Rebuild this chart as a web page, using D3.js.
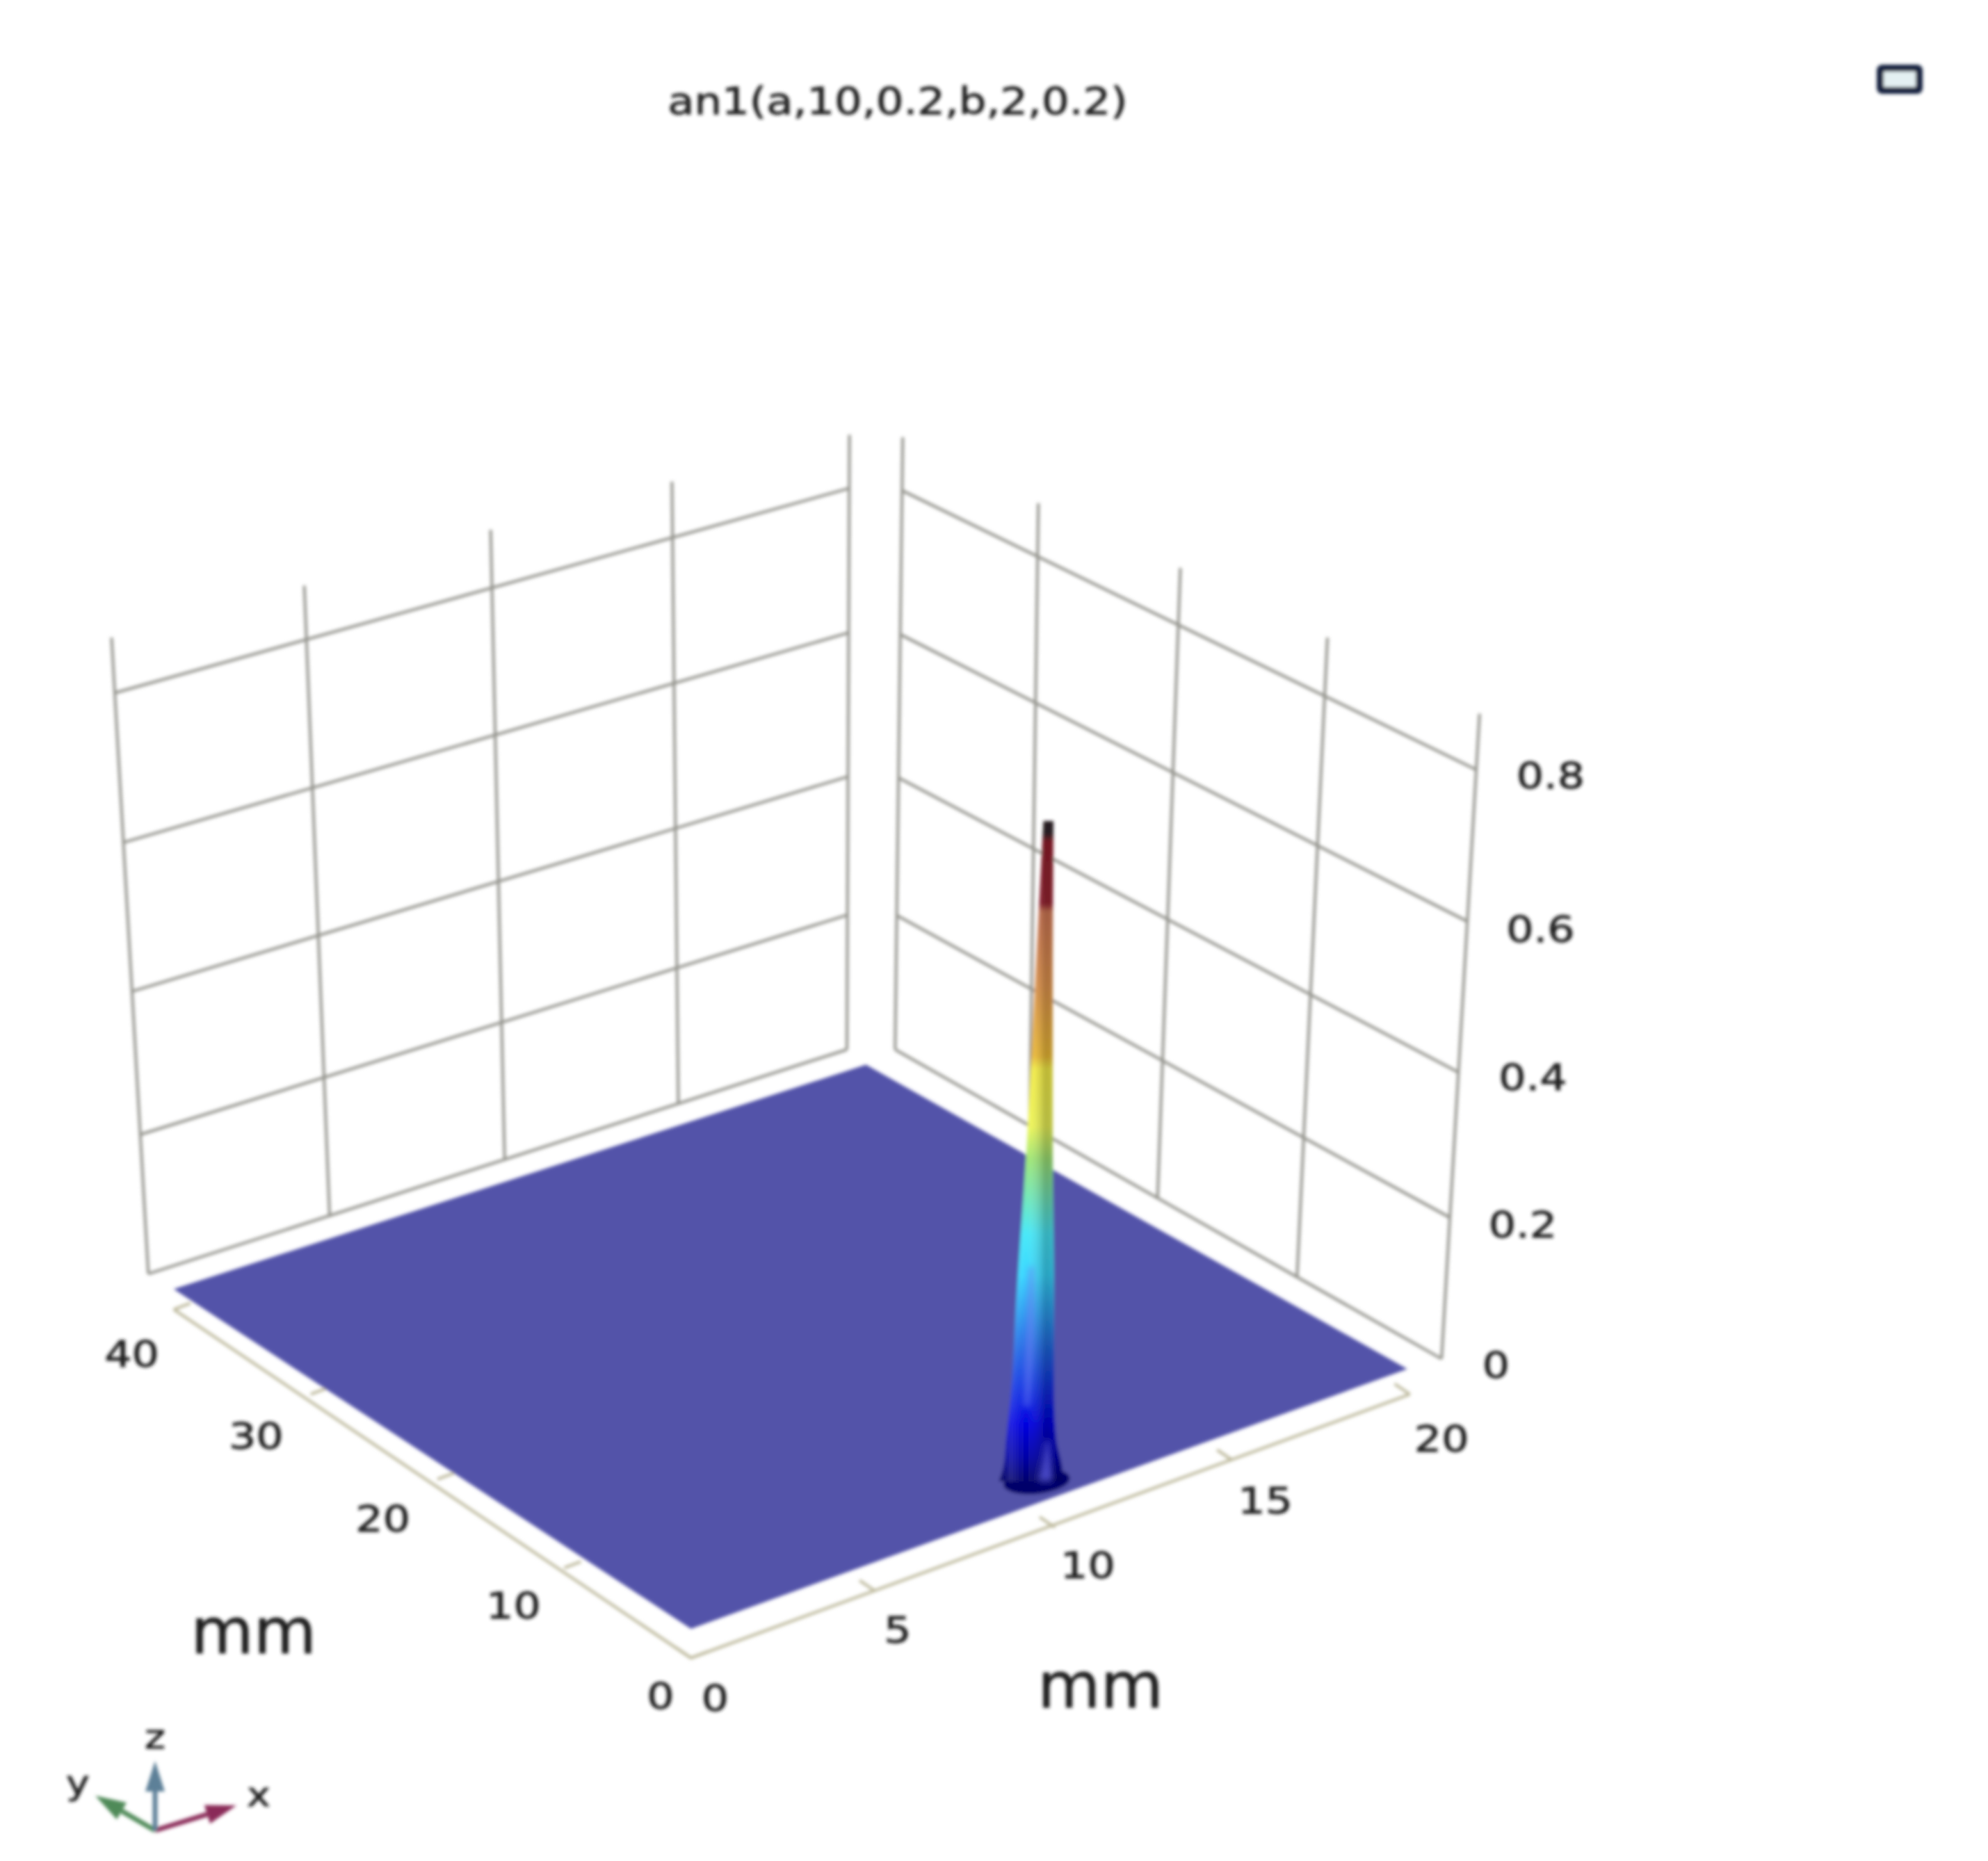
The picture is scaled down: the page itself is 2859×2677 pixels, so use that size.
<!DOCTYPE html>
<html><head><meta charset="utf-8">
<script src="https://cdn.jsdelivr.net/npm/d3@7"></script>
<style>html,body{margin:0;padding:0;background:#fff}svg{display:block}text{font-family:"DejaVu Sans";fill:#1c1c1c;stroke:#1c1c1c;stroke-width:0.8px}</style>
</head><body><svg id="c" width="2859" height="2677"></svg>
<script>
const titleText = "an1(a,10,0.2,b,2,0.2)";
const unitText = "mm";
const xTicks = [0,5,10,15,20];
const yTicks = [0,10,20,30,40];
const zTicks = [0,0.2,0.4,0.6,0.8];
const zFrame = [0,0.2,0.4,0.6,0.8,0.875];
const spikeZ     = [0,0.018,0.051,0.1,0.218,0.396,0.616,0.8];
const spikeLeft  = [8.6,8.72,8.8,8.92,9.08,9.36,9.62,9.84];
const spikeRight = [10.4,10.36,10.2,10.14,10.14,10.1,10.1,10.12];
const jetZ = [0,0.03,0.07,0.16,0.25,0.3,0.39,0.43,0.5,0.515,0.6,0.69,0.7,0.775,0.785,0.8];
const jetColors = ["#00006a","#0000a8","#0000e0","#2068e4","#38d8ff","#48e8f8","#a0e878","#f0f858","#fcf448","#f4c038","#e89a50","#d87c58","#9c2434","#96202e","#33282a","#33262a"];
const highlightZ = [0.09,0.14,0.2,0.26];
const highlightL = [9.3,9.32,9.38,9.44];
const highlightR = [9.44,9.52,9.56,9.56];
const wedgeZ = [0,0.02,0.05];
const wedgeL = [9.7,9.8,9.9];
const wedgeR = [10.1,10.06,10.0];

const k = 2859/1568;
const lin = (d, r) => d3.scaleLinear().domain(d).range(r.map(v => v*k));
const svg = d3.select("#c");
const defs = svg.append("defs");
const blur = (id,s)=>defs.append("filter").attr("id",id).attr("x","-30%").attr("y","-30%").attr("width","160%").attr("height","160%")
  .append("feGaussianBlur").attr("stdDeviation",s);
blur("soft",2.4); blur("softer",4);
const root = svg.append("g").attr("filter","url(#soft)");

// wall scales
const t = d3.scaleLinear().domain(zFrame).range([0,0.219,0.444,0.678,0.913,1]);
const aBotX=lin(xTicks,[117,260,398,535,668]), aBotY=lin(xTicks,[1005,960,914,870,828]);
const aTopX=lin(xTicks,[88,240,387,530,670]),  aTopY=lin(xTicks,[503,462,418,380,343]);
const bBotX=lin(yTicks,[1137,1023,913,812,706]), bBotY=lin(yTicks,[1072,1008,945,890,828]);
const bTopX=lin(yTicks,[1167,1047,931,819,712]), bTopY=lin(yTicks,[563,503,448,397,345]);
const pA=(x,z)=>[aBotX(x)+(aTopX(x)-aBotX(x))*t(z), aBotY(x)+(aTopY(x)-aBotY(x))*t(z)];
const pB=(y,z)=>[bBotX(y)+(bTopX(y)-bBotX(y))*t(z), bBotY(y)+(bTopY(y)-bBotY(y))*t(z)];
const zTop = zFrame[zFrame.length-1];
const line = d3.line();
const walls = root.append("g").attr("fill","none").attr("stroke","#93938c").attr("stroke-width",4);
xTicks.forEach(x=>walls.append("path").attr("d",line([pA(x,0),pA(x,zTop)])));
yTicks.forEach(y=>walls.append("path").attr("d",line([pB(y,0),pB(y,zTop)])));
zTicks.forEach(z=>{
  walls.append("path").attr("d",line([pA(0,z),pA(20,z)]));
  walls.append("path").attr("d",line([pB(40,z),pB(0,z)]));
});

// floor frame with ticks
const fxX=lin(xTicks,[545,690,832,972,1112]), fxY=lin(xTicks,[1308,1255,1205,1152,1100]);
const fyX=lin(yTicks,[545,445,345,245,137]),  fyY=lin(yTicks,[1308,1237,1167,1100,1033]);
const frame = root.append("g").attr("fill","none").attr("stroke","#bdb99c").attr("stroke-width",4);
frame.append("path").attr("d",line([[fyX(40),fyY(40)],[fyX(0),fyY(0)],[fxX(20),fxY(20)]]));
xTicks.forEach(x=>frame.append("path").attr("d",line([[fxX(x),fxY(x)],[fxX(x)-22,fxY(x)-15]])));
yTicks.forEach(y=>frame.append("path").attr("d",line([[fyX(y),fyY(y)],[fyX(y)+24,fyY(y)-9]])));

// plane
const planeX=lin([0,20],[545,1110]), planeY=lin([0,20],[1285,1080]);
const planeLX=lin([0,40],[545,137]), planeLY=lin([0,40],[1285,1017]);
const planeFar=[683*k,840*k];
root.append("path").attr("fill","#5353a9")
  .attr("d",line([[planeX(0),planeY(0)],[planeX(20),planeY(20)],planeFar,[planeLX(40),planeLY(40)]])+"Z");

// spike
const spikeX=d3.scaleLinear().domain([0,20]).range([545*k,1110*k]);
const spikeY=d3.scaleLinear().domain([0,0.8]).range([2131,1181]);
const zMaxPeak=d3.max(spikeZ);
const grad=defs.append("linearGradient").attr("id","jet").attr("gradientUnits","userSpaceOnUse")
  .attr("x1",0).attr("x2",0).attr("y1",spikeY(0)).attr("y2",spikeY(zMaxPeak));
jetZ.forEach((z,i)=>grad.append("stop").attr("offset",z/zMaxPeak).attr("stop-color",jetColors[i]));
const shade=defs.append("linearGradient").attr("id","shade").attr("x1",0).attr("x2",1).attr("y1",0).attr("y2",0);
[[0,"#000",0.08],[0.18,"#fff",0.15],[0.42,"#fff",0],[0.72,"#000",0.26],[1,"#000",0.12]].forEach(s=>
  shade.append("stop").attr("offset",s[0]).attr("stop-color",s[1]).attr("stop-opacity",s[2]));
const areaY=d3.area().y(d=>spikeY(d.z)).x0(d=>spikeX(d.l)).x1(d=>spikeX(d.r)).curve(d3.curveMonotoneY);
const rows=(zs,ls,rs)=>zs.map((z,i)=>({z,l:ls[i],r:rs[i]}));
const profile=rows(spikeZ,spikeLeft,spikeRight);
root.append("ellipse").attr("cx",spikeX(9.65)).attr("cy",spikeY(0)).attr("rx",48).attr("ry",18)
  .attr("transform",`rotate(-6 ${spikeX(9.65)} ${spikeY(0)})`).attr("fill","#00006a");
root.append("path").attr("d",areaY(profile)).attr("fill","url(#jet)");
root.append("path").attr("d",areaY(profile)).attr("fill","url(#shade)");
root.append("path").attr("d",areaY(rows(highlightZ,highlightL,highlightR))).attr("fill","#6c7cf0").attr("opacity",0.7).attr("filter","url(#softer)");
root.append("path").attr("d",areaY(rows(wedgeZ,wedgeL,wedgeR))).attr("fill","#5a5ae0").attr("opacity",0.8).attr("filter","url(#softer)");

// text: the reference is stretched sideways
const stretch=1.19;
const tick=(x,y,s,size,sx=stretch)=>root.append("text").attr("transform",`translate(${x},${y}) scale(${sx},1)`).attr("text-anchor","middle")
  .attr("dominant-baseline","central").attr("font-size",size).text(s);
const lxX=lin(xTicks,[564,708,858,998,1137]), lxY=lin(xTicks,[1340,1286,1235,1184,1135]);
const lyX=lin(yTicks,[521,405,302,202,104]),  lyY=lin(yTicks,[1338,1267,1198,1133,1068]);
const lzX=lin(zTicks,[1180,1201,1209,1215,1223]), lzY=lin(zTicks,[1077,966,850,733,612]);
xTicks.forEach(v=>tick(lxX(v),lxY(v),v,52));
yTicks.forEach(v=>tick(lyX(v),lyY(v),v,52));
zTicks.forEach(v=>tick(lzX(v),lzY(v),v,52));
tick(708*k,80*k,titleText,52.5);
tick(200*k,1287*k,unitText,90,1.03);
tick(868*k,1330*k,unitText,90,1.03);

// orientation triad
const tri=root.append("g");
const arrow=(tip,col)=>{
  const o=[223,2633], dx=tip[0]-o[0], dy=tip[1]-o[1], len=Math.hypot(dx,dy), ux=dx/len, uy=dy/len;
  const b=[tip[0]-ux*44,tip[1]-uy*44];
  tri.append("path").attr("d",line([o,b])).attr("stroke",col).attr("stroke-width",7).attr("fill","none");
  tri.append("path").attr("d",line([tip,[b[0]-uy*14,b[1]+ux*14],[b[0]+uy*14,b[1]-ux*14]])+"Z").attr("fill",col);
};
arrow([137,2583],"#4f8a58");
arrow([340,2597],"#8a2c58");
arrow([223,2533],"#5d8098");
tick(223,2498,"z",48); tick(112,2564,"y",48); tick(372,2581,"x",48);

// toolbar icon
root.append("rect").attr("x",2704).attr("y",98).attr("width",56).attr("height",32).attr("rx",3)
  .attr("fill","#e4f0f2").attr("stroke","#14243f").attr("stroke-width",10);
</script></body></html>
